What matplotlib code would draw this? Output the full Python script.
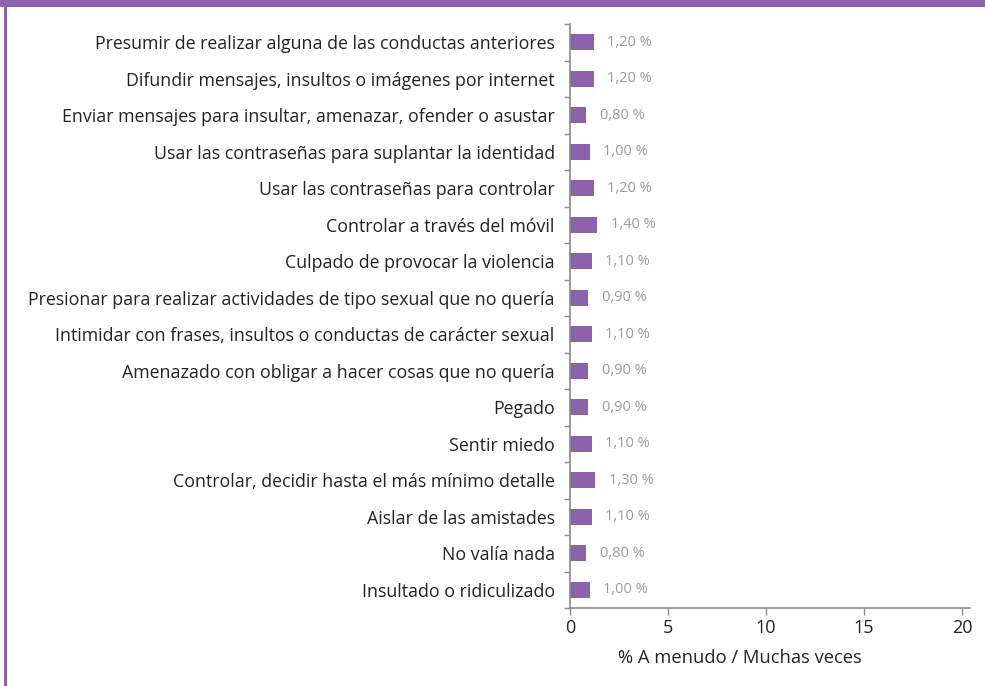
import matplotlib
matplotlib.use("Agg")
import matplotlib.pyplot as plt
from matplotlib.patches import Rectangle
from matplotlib.ticker import FixedLocator

plt.rcParams['font.family'] = ['Open Sans', 'DejaVu Sans']

# categories top to bottom
categories = [
    "Presumir de realizar alguna de las conductas anteriores",
    "Difundir mensajes, insultos o imágenes por internet",
    "Enviar mensajes para insultar, amenazar, ofender o asustar",
    "Usar las contraseñas para suplantar la identidad",
    "Usar las contraseñas para controlar",
    "Controlar a través del móvil",
    "Culpado de provocar la violencia",
    "Presionar para realizar actividades de tipo sexual que no quería",
    "Intimidar con frases, insultos o conductas de carácter sexual",
    "Amenazado con obligar a hacer cosas que no quería",
    "Pegado",
    "Sentir miedo",
    "Controlar, decidir hasta el más mínimo detalle",
    "Aislar de las amistades",
    "No valía nada",
    "Insultado o ridiculizado",
]
values = [1.20, 1.20, 0.80, 1.00, 1.20, 1.40, 1.10, 0.90,
          1.10, 0.90, 0.90, 1.10, 1.30, 1.10, 0.80, 1.00]
x_ticks = [0, 5, 10, 15, 20]
x_label = "% A menudo / Muchas veces"

purple = "#8c62aa"
axis_gray = "#8a8a8a"

fig = plt.figure(figsize=(9.85, 6.86), dpi=100)

# frame decoration: top band and left rule
fig.patches.append(Rectangle((0, 1 - 7 / 686), 1, 7 / 686, transform=fig.transFigure,
                             facecolor=purple, edgecolor="none"))
fig.patches.append(Rectangle((4 / 985, 0), 3 / 985, 1, transform=fig.transFigure,
                             facecolor=purple, edgecolor="none"))

ax = fig.add_axes([570 / 985, 78 / 686, 400 / 985, 584 / 686])

n = len(categories)
ypos = list(range(n))[::-1]
ax.barh(ypos, values, height=0.45, color=purple)

for y, v in zip(ypos, values):
    ax.annotate(f"{v:.2f} %".replace(".", ","), (v, y), xytext=(10, 0),
                textcoords="offset points", va="center", ha="left",
                fontsize=10.5, color="#9a9a9a")

ax.set_xlim(0, 20.4)
ax.set_ylim(-0.5, n - 0.5)

ax.set_yticks(ypos)
ax.set_yticklabels(categories, fontsize=12.8, color="#222222")
ax.tick_params(axis="y", which="major", length=0, pad=11)
ax.yaxis.set_minor_locator(FixedLocator([i + 0.5 for i in range(-1, n)]))
ax.tick_params(axis="y", which="minor", length=4, color=axis_gray, width=1)

ax.set_xticks(x_ticks)
ax.tick_params(axis="x", length=5, color=axis_gray, width=1,
               labelsize=13, labelcolor="#222222", pad=3)
ax.set_xlabel(x_label, fontsize=13.2, color="#222222", va="center")
ax.xaxis.set_label_coords(170 / 400, -50 / 584)

for s in ["top", "right"]:
    ax.spines[s].set_visible(False)
for s in ["left", "bottom"]:
    ax.spines[s].set_color(axis_gray)
    ax.spines[s].set_linewidth(1.2)

fig.savefig("out.png", dpi=100)
